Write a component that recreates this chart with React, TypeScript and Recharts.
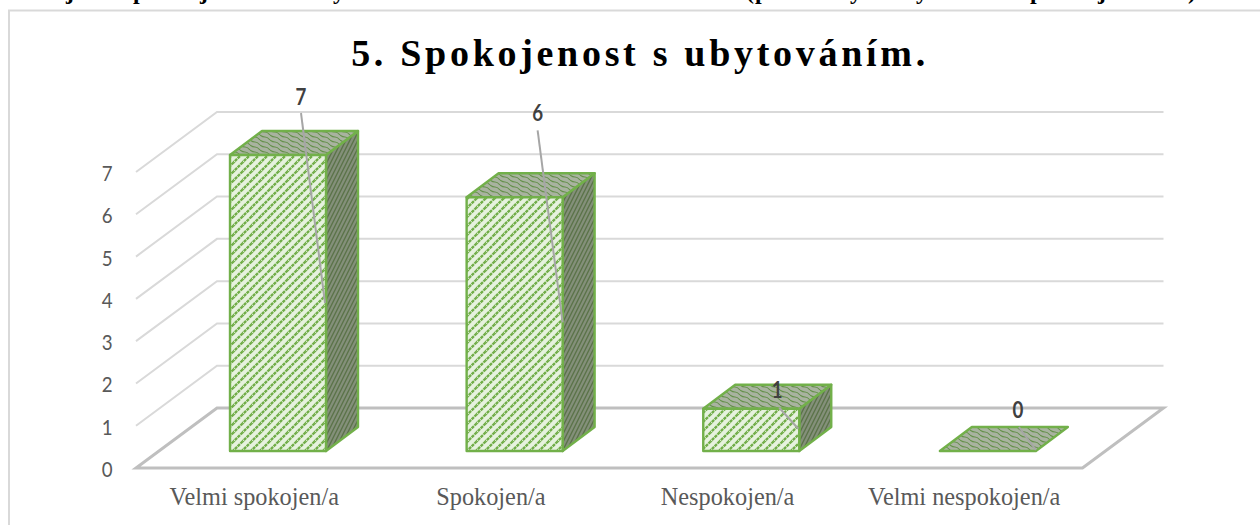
import { BarChart, Bar, XAxis, YAxis, CartesianGrid, LabelList } from "recharts";

const categories = ["Velmi spokojen/a", "Spokojen/a", "Nespokojen/a", "Velmi nespokojen/a"];
const answers = [7, 6, 1, 0];
const yTicks = [0, 1, 2, 3, 4, 5, 6, 7];

const data = categories.map((name, i) => ({ name, value: answers[i] }));

// bottom edge of the heading above the chart, only the descenders are on the page
const croppedGlyphs: [string, number][] = [
  ["j", 66], ["p", 133], ["j", 200], ["y", 333], ["(", 746], ["p", 755],
  ["y", 850], ["y", 916], ["p", 1030], ["j", 1098], [")", 1188],
];

// fake 3d depth
const BAR_DX = 32;
const BAR_DY = 24;
const WALL_DX = 57;
const WALL_DY = 43;
const FLOOR_DX = 24;
const FLOOR_DY = 17;

// label and leader line placement, relative to the top left of the bar face
const leaders = [
  { lx: 71, ly: -59, sx: 71, sy: -42, ex: 95, ey: 148 },
  { lx: 71, ly: -85, sx: 71, sy: -67, ex: 96, ey: 125 },
  { lx: 74, ly: -19, sx: 76, sy: -1, ex: 95, ey: 20 },
  { lx: 78, ly: -42, sx: 79, sy: -24, ex: 96, ey: -1 },
];

const GREEN = "#70ad47";

function Box3d({ x, y, width, height }: any) {
  const r = x + width;
  const b = y + height;
  const top = `M${x},${y} L${x + BAR_DX},${y - BAR_DY} L${r + BAR_DX},${y - BAR_DY} L${r},${y} Z`;
  const side = `M${r},${y} L${r + BAR_DX},${y - BAR_DY} L${r + BAR_DX},${b - BAR_DY} L${r},${b} Z`;
  return (
    <g stroke="#72b04a" strokeWidth={2.4} strokeLinejoin="round">
      {height > 0 && <path d={side} fill="url(#sideHatch)" />}
      <path d={top} fill="url(#topHatch)" />
      {height > 0 && <rect x={x} y={y} width={width} height={height} fill="url(#frontHatch)" />}
    </g>
  );
}

function WallLine({ x1, x2, y1 }: any) {
  const backY = y1 - WALL_DY;
  const backL = x1 + WALL_DX;
  const backR = x2 + WALL_DX;
  const frontL = x1 - FLOOR_DX;
  const frontR = x2 - FLOOR_DX;
  const frontY = y1 + FLOOR_DY;
  if (y1 > 440) {
    return (
      <path
        d={`M${backL},${backY} L${backR},${backY} L${frontR},${frontY} L${frontL},${frontY} Z`}
        fill="none"
        stroke="#bfbfbf"
        strokeWidth={3}
      />
    );
  }
  return (
    <path
      d={`M${frontL},${frontY} L${backL},${backY} L${backR},${backY}`}
      fill="none"
      stroke="#d9d9d9"
      strokeWidth={2}
    />
  );
}

function LeaderLabel({ x, y, value, index }: any) {
  const l = leaders[index];
  return (
    <g>
      <line x1={x + l.sx} y1={y + l.sy} x2={x + l.ex} y2={y + l.ey} stroke="#a6a6a6" strokeWidth={2} />
      <text
        transform={`translate(${x + l.lx},${y + l.ly}) scale(0.85,1)`}
        textAnchor="middle"
        dominantBaseline="central"
        fontFamily="Lato"
        fontWeight={700}
        fontSize={22}
        fill="#404040"
      >
        {value}
      </text>
    </g>
  );
}

function ValueTick({ y, payload }: any) {
  return (
    <text
      transform={`translate(112.5,${y + 26}) scale(0.85,1)`}
      textAnchor="end"
      fontFamily="Lato"
      fontSize={22}
      fill="#595959"
    >
      {payload.value}
    </text>
  );
}

function CategoryTick({ x, y, payload }: any) {
  return (
    <text
      x={x - FLOOR_DX}
      y={y + 46}
      textAnchor="middle"
      fontFamily="Liberation Serif"
      fontSize={24.3}
      fill="#595959"
    >
      {payload.value}
    </text>
  );
}

export default function App() {
  return (
    <div style={{ position: "absolute", left: 0, top: 0, width: 1260, height: 525, overflow: "hidden", background: "#fff" }}>
      <svg width={1260} height={525} style={{ position: "absolute", left: 0, top: 0 }}>
        {croppedGlyphs.map(([g, x], i) => (
          <text key={i} x={x} y={-1} fontFamily="Liberation Serif" fontWeight={700} fontSize={24} fill="#000">
            {g}
          </text>
        ))}
        <rect x={9} y={10.5} width={1300} height={560} fill="none" stroke="#d9d9d9" strokeWidth={2} />
        <text
          x={640}
          y={66}
          textAnchor="middle"
          fontFamily="Liberation Serif"
          fontWeight={700}
          fontSize={38}
          letterSpacing={3.7}
          fill="#000"
        >
          5. Spokojenost s ubytováním.
        </text>
      </svg>
      <div style={{ position: "absolute", left: 0, top: 0 }}>
        <BarChart
          width={1260}
          height={525}
          data={data}
          margin={{ top: 155, right: 153.5, bottom: 0, left: 0 }}
        >
          <defs>
            <pattern id="frontHatch" patternUnits="userSpaceOnUse" width={9} height={9}>
              <rect width={9} height={9} fill="#e6f2de" />
              <path d="M-2,11 L11,-2" stroke={GREEN} strokeWidth={2.3} strokeDasharray="3.2 0.8" />
              <path d="M-2,2 L2,-2 M7,11 L11,7" stroke={GREEN} strokeWidth={2.3} />
            </pattern>
            <pattern id="topHatch" patternUnits="userSpaceOnUse" width={10} height={5}>
              <rect width={10} height={5} fill="#a9b3a0" />
              <path d="M0,0 Q2.5,2 5,2 T10,5 M0,-5 Q2.5,-3 5,-3 T10,0 M0,5 Q2.5,7 5,7 T10,10" fill="none" stroke="#64904a" strokeWidth={1.1} />
            </pattern>
            <pattern id="sideHatch" patternUnits="userSpaceOnUse" width={4} height={8}>
              <rect width={4} height={8} fill="#84907a" />
              <path d="M0,8 L4,0 M-1,2 L1,-2 M3,10 L5,6" stroke="#5b7349" strokeWidth={1.4} />
            </pattern>
          </defs>
          <CartesianGrid vertical={false} horizontal={(props: any) => <WallLine key={props.index} {...props} />} />
          <XAxis
            dataKey="name"
            height={74}
            axisLine={false}
            tickLine={false}
            interval={0}
            tick={CategoryTick}
          />
          <YAxis
            width={160}
            domain={[0, 7]}
            ticks={yTicks}
            axisLine={false}
            tickLine={false}
            tick={ValueTick}
          />
          <Bar dataKey="value" barSize={96} isAnimationActive={false} shape={Box3d}>
            <LabelList dataKey="value" content={LeaderLabel} />
          </Bar>
        </BarChart>
      </div>
    </div>
  );
}
